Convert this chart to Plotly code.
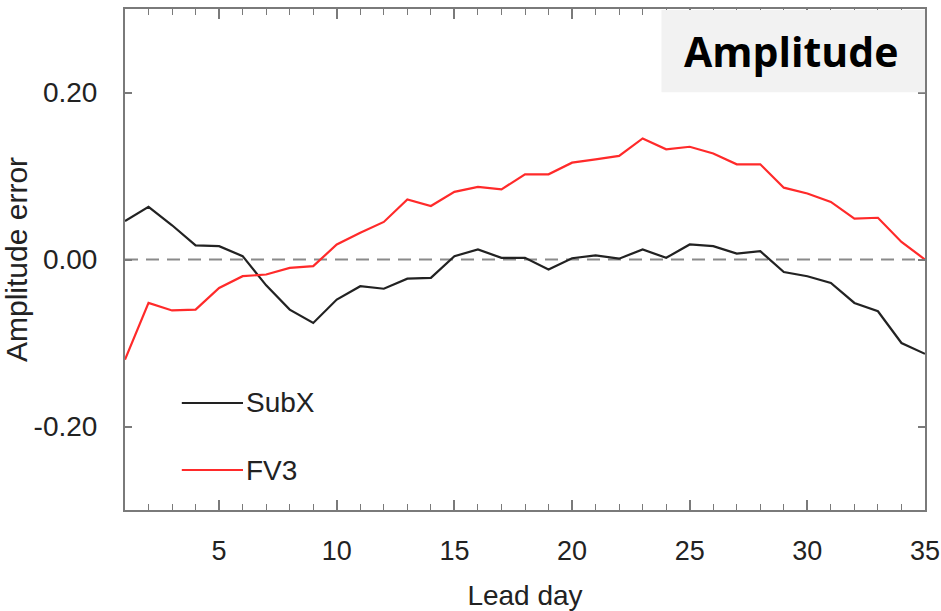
import plotly.graph_objects as go

lead_day = list(range(1, 36))
subx = [0.046, 0.063, 0.041, 0.017, 0.016, 0.004, -0.031, -0.060, -0.076, -0.048,
        -0.032, -0.035, -0.023, -0.022, 0.004, 0.012, 0.002, 0.002, -0.012, 0.0015,
        0.005, 0.001, 0.012, 0.002, 0.018, 0.016, 0.007, 0.010, -0.015, -0.020,
        -0.028, -0.052, -0.062, -0.100, -0.113]
fv3 = [-0.120, -0.052, -0.061, -0.060, -0.034, -0.020, -0.018, -0.010, -0.008, 0.018,
       0.032, 0.045, 0.072, 0.064, 0.081, 0.087, 0.084, 0.102, 0.102, 0.116,
       0.120, 0.124, 0.145, 0.132, 0.135, 0.127, 0.114, 0.114, 0.086, 0.079,
       0.069, 0.049, 0.050, 0.021, 0.000]
series_names = ["SubX", "FV3"]
series_colors = ["#222222", "#ff2a2a"]
y_ticks = [-0.2, 0.0, 0.2]
y_tick_labels = ["-0.20", "0.00", "0.20"]
x_ticks = [5, 10, 15, 20, 25, 30, 35]
panel_label = "Amplitude"

FONT = "Liberation Sans Narrow, Liberation Sans, Arial, sans-serif"
AXC = "#7a7a7a"
TXT = "#222222"

fig = go.Figure()
for name, vals, col in zip(series_names, [subx, fv3], series_colors):
    fig.add_trace(go.Scatter(x=lead_day, y=vals, mode="lines", name=name,
                             line=dict(color=col, width=2.2), showlegend=False))

# zero reference line
fig.add_hline(y=0, line=dict(color="#8a8a8a", width=2, dash="13px,8px"), layer="below")

# manual legend
leg_y = [0.2136, 0.0798]
for name, col, yy in zip(series_names, series_colors, leg_y):
    fig.add_shape(type="line", xref="paper", yref="paper", x0=0.071, x1=0.1475,
                  y0=yy, y1=yy, line=dict(color=col, width=2))
    fig.add_annotation(xref="paper", yref="paper", x=0.149, y=yy, text=name,
                       showarrow=False, xanchor="left", yanchor="middle",
                       font=dict(family=FONT, size=28, color=TXT))

# panel label box
fig.add_shape(type="rect", xref="paper", yref="paper", x0=0.6706, x1=1.0, y0=0.834, y1=0.998,
              fillcolor="#f2f2f2", line=dict(width=0), layer="above")
fig.add_annotation(xref="paper", yref="paper", x=0.832, y=0.916, text=panel_label,
                   showarrow=False, xanchor="center", yanchor="middle",
                   font=dict(family="Open Sans, sans-serif", size=41, color="#000", weight=700))

fig.update_xaxes(range=[1, 35], tickvals=x_ticks, ticktext=[str(v) for v in x_ticks],
                 ticks="inside", ticklen=10, tickwidth=1.5, tickcolor=AXC,
                 minor=dict(dtick=1, tick0=0, ticks="inside", ticklen=6, tickwidth=1.2, tickcolor=AXC, showgrid=False),
                 showline=True, linecolor=AXC, linewidth=2, mirror="ticks",
                 showgrid=False, zeroline=False, automargin=False,
                 tickfont=dict(family=FONT, size=27, color=TXT),
                 ticklabelstandoff=16,
                 title=dict(text="Lead day", font=dict(family=FONT, size=28, color=TXT), standoff=20))
fig.update_yaxes(range=[-0.3, 0.3], tickvals=y_ticks, ticktext=y_tick_labels,
                 ticks="inside", ticklen=7, tickwidth=1.5, tickcolor=AXC,
                 showline=True, linecolor=AXC, linewidth=2, mirror="ticks",
                 showgrid=False, zeroline=False, automargin=False,
                 tickfont=dict(family=FONT, size=28, color=TXT),
                 ticklabelstandoff=20,
                 title=dict(text="Amplitude error", font=dict(family="Liberation Sans, Arial, sans-serif", size=30, color=TXT), standoff=4))

fig.update_layout(width=941, height=611, margin=dict(l=125, r=16, t=9, b=101),
                  plot_bgcolor="white", paper_bgcolor="white", showlegend=False)

# remove the browser's default body margin so the figure sits at the window origin
fig.write_html("out.html", config={"displayModeBar": False},
               post_script="document.body.style.margin='0';document.body.style.overflow='hidden';")
